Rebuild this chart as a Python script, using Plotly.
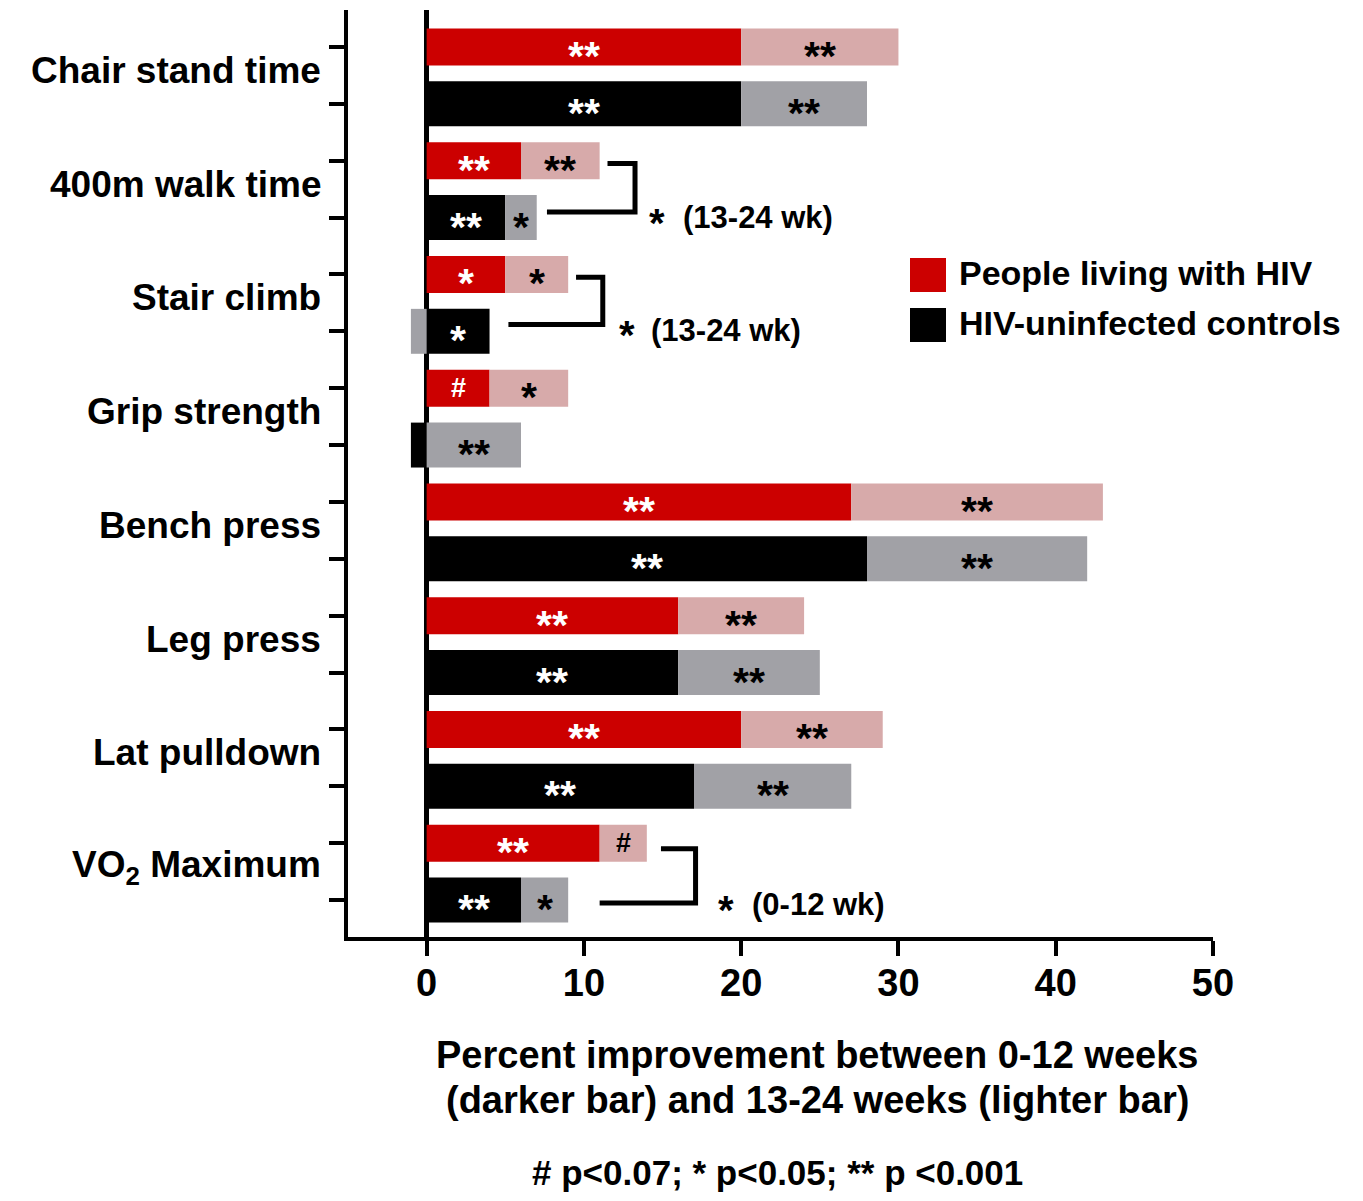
import plotly.graph_objects as go

# ---------------- data ----------------
categories = ["Chair stand time", "400m walk time", "Stair climb", "Grip strength",
              "Bench press", "Leg press", "Lat pulldown", "VO<sub>2</sub> Maximum"]

# percent improvement 0-12 weeks (darker bar) and additional 13-24 weeks (lighter bar)
plwh_0_12 = [20, 6, 5, 4, 27, 16, 20, 11]
plwh_13_24 = [10, 5, 4, 5, 16, 8, 9, 3]
ctrl_0_12 = [20, 5, 4, -1, 28, 16, 17, 6]
ctrl_13_24 = [8, 2, -1, 6, 14, 9, 10, 3]

plwh_sig_0_12 = ["**", "**", "*", "#", "**", "**", "**", "**"]
plwh_sig_13_24 = ["**", "**", "*", "*", "**", "**", "**", "#"]
ctrl_sig_0_12 = ["**", "**", "*", "", "**", "**", "**", "**"]
ctrl_sig_13_24 = ["**", "*", "", "**", "**", "**", "**", "*"]

x_ticks = [0, 10, 20, 30, 40, 50]

# between-group comparisons (brackets)
bracket_group = [1, 2, 7]
bracket_label = ["(13-24 wk)", "(13-24 wk)", "(0-12 wk)"]

# ---------------- styling ----------------
FONT = "Liberation Sans, Arial, Helvetica, sans-serif"
RED, PINK, BLACK, GRAY = "#CC0000", "#D7AAAA", "#000000", "#A1A1A6"

OFF = 8                     # default body margin of the page
FIG_W, FIG_H = 1363 - 2 * OFF, 1201 - 2 * OFF
PL, PT, PR, PB = 348, 10, 1213, 937   # plot area in screen pixels
PW, PH = PR - PL, PB - PT


def px_x(px):
    return (px - PL) / PW


def px_y(py):
    return (PB - py) / PH


y_plwh = [2 * i for i in range(len(categories))]
y_ctrl = [2 * i + 1 for i in range(len(categories))]

fig = go.Figure()
fig.add_trace(go.Bar(y=y_plwh, x=plwh_0_12, orientation="h", width=0.65,
                     marker=dict(color=RED, line=dict(width=0)), name="PLWH 0-12 wk"))
fig.add_trace(go.Bar(y=y_plwh, x=plwh_13_24, orientation="h", width=0.65,
                     marker=dict(color=PINK, line=dict(width=0)), name="PLWH 13-24 wk"))
fig.add_trace(go.Bar(y=y_ctrl, x=ctrl_0_12, orientation="h", width=0.79,
                     marker=dict(color=BLACK, line=dict(width=0)), name="Control 0-12 wk"))
fig.add_trace(go.Bar(y=y_ctrl, x=ctrl_13_24, orientation="h", width=0.79,
                     marker=dict(color=GRAY, line=dict(width=0)), name="Control 13-24 wk"))

annotations = []


def seg_centers(dark, light):
    dc = dark / 2
    if (dark >= 0) == (light >= 0):
        lc = dark + light / 2
    else:
        lc = light / 2
    return dc, lc


def sig_ann(x, y, text, color):
    if not text:
        return
    if "*" in text:
        size, ys = 41, -9
    else:
        size, ys = 27, 0
    annotations.append(dict(x=x, y=y, xref="x", yref="y", text=text, showarrow=False,
                            yshift=ys, font=dict(family=FONT, size=size, color=color,
                                                 weight="bold")))


for i in range(len(categories)):
    dc, lc = seg_centers(plwh_0_12[i], plwh_13_24[i])
    sig_ann(dc, y_plwh[i], plwh_sig_0_12[i], "white")
    sig_ann(lc, y_plwh[i], plwh_sig_13_24[i], "black")
    dc, lc = seg_centers(ctrl_0_12[i], ctrl_13_24[i])
    sig_ann(dc, y_ctrl[i], ctrl_sig_0_12[i], "white")
    sig_ann(lc, y_ctrl[i], ctrl_sig_13_24[i], "black")
    # category label
    annotations.append(dict(x=px_x(323), y=2 * i + 0.5, xref="paper", yref="y",
                            text=categories[i], showarrow=False, xanchor="right",
                            yshift=5,
                            font=dict(family=FONT, size=37, color="black", weight="bold")))

# brackets
br_top_start = [11.5, 9.5, 14.9]
br_bot_start = [7.65, 5.2, 11.0]
br_vert = [13.25, 11.2, 17.1]
br_top_dy = [0.05, 0.05, 0.1]
br_bot_dy = [-0.1, -0.12, 0.05]
br_star_x = [14.65, 12.75, 19.05]
br_text_x = [16.2, 14.15, 20.55]
br_text_dy = [0.0, -0.02, 0.08]

shapes = []
for k, g in enumerate(bracket_group):
    yt = 2 * g + br_top_dy[k]
    yb = 2 * g + 1 + br_bot_dy[k]
    shapes.append(dict(type="path", xref="x", yref="y",
                       path=f"M {br_top_start[k]},{yt} L {br_vert[k]},{yt} "
                            f"L {br_vert[k]},{yb} L {br_bot_start[k]},{yb}",
                       line=dict(color="black", width=5)))
    ty = 2 * g + 1 + br_text_dy[k]
    annotations.append(dict(x=br_star_x[k], y=ty, xref="x", yref="y", text="*",
                            showarrow=False, yshift=-5,
                            font=dict(family=FONT, size=40, color="black", weight="bold")))
    annotations.append(dict(x=br_text_x[k], y=ty, xref="x", yref="y", text=bracket_label[k],
                            showarrow=False, xanchor="left",
                            font=dict(family=FONT, size=31, color="black", weight="bold")))

# legend (manual, large squares)
leg_items = [("People living with HIV", RED, 258, 292, 273),
             ("HIV-uninfected controls", BLACK, 308, 342, 323)]
for label, col, ya, yb_, yc in leg_items:
    shapes.append(dict(type="rect", xref="paper", yref="paper",
                       x0=px_x(910), x1=px_x(946), y0=px_y(yb_), y1=px_y(ya),
                       fillcolor=col, line=dict(width=0)))
    annotations.append(dict(x=px_x(957), y=px_y(yc), xref="paper", yref="paper",
                            text=label, showarrow=False, xanchor="left", yanchor="middle",
                            font=dict(family=FONT, size=34, color="black", weight="bold")))

# axis title and footnote
for txt, cx, cy, sz in [("Percent improvement between 0-12 weeks", 817, 1055, 38),
                        ("(darker bar) and 13-24 weeks (lighter bar)", 817, 1100, 38),
                        ("# p<0.07; * p<0.05; ** p <0.001", 777, 1172, 35)]:
    annotations.append(dict(x=px_x(cx), y=px_y(cy), xref="paper", yref="paper", text=txt,
                            showarrow=False, xanchor="center", yanchor="middle",
                            font=dict(family=FONT, size=sz, color="black", weight="bold")))

fig.update_layout(
    width=FIG_W, height=FIG_H,
    margin=dict(l=PL - OFF, r=FIG_W - (PR - OFF), t=PT - OFF, b=FIG_H - (PB - OFF), pad=0),
    barmode="relative",
    showlegend=False,
    plot_bgcolor="white", paper_bgcolor="white",
    annotations=annotations, shapes=shapes,
    xaxis=dict(range=[-5, 50], tickvals=x_ticks, ticks="outside", ticklen=15, tickwidth=4,
               tickcolor="black", showline=True, linewidth=4, linecolor="black",
               showgrid=False, zeroline=True, zerolinewidth=5, zerolinecolor="black",
               ticklabelstandoff=-6,
               tickfont=dict(family=FONT, size=38, color="black", weight="bold")),
    yaxis=dict(range=[15.65, -0.65], tickvals=y_plwh + y_ctrl, ticks="outside", ticklen=15,
               tickwidth=4, tickcolor="black", showticklabels=False, showline=True,
               linewidth=4, linecolor="black", showgrid=False, zeroline=False),
)

fig.write_html("out.html")
